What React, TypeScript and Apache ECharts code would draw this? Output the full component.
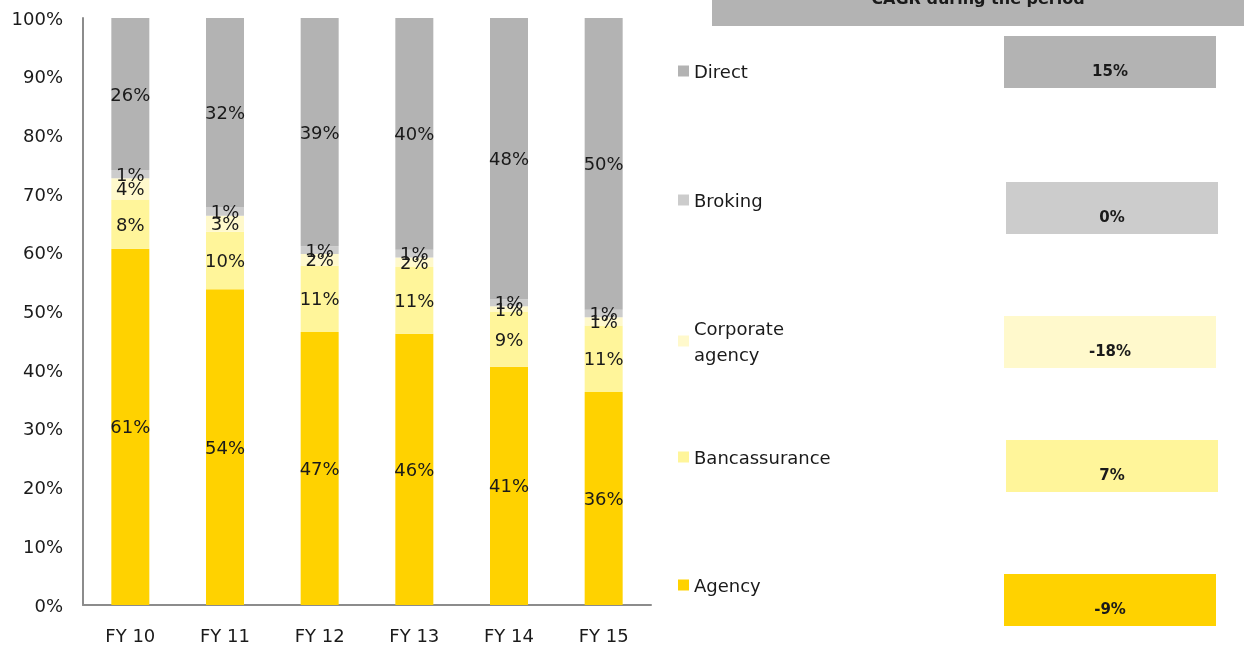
import React, { useEffect, useRef } from "react";
import * as echarts from "echarts";

const categories = ["FY 10", "FY 11", "FY 12", "FY 13", "FY 14", "FY 15"];
const agency = [60.7, 53.8, 46.5, 46.2, 40.6, 36.3];
const bancassurance = [8.4, 9.8, 11.3, 11.4, 9.3, 11.3];
const corporateAgency = [3.6, 2.7, 2.0, 1.6, 1.0, 1.4];
const broking = [1.4, 1.4, 1.3, 1.3, 1.2, 1.3];
const direct = [25.9, 32.3, 38.9, 39.5, 47.9, 49.7];
const yTicks = [0, 10, 20, 30, 40, 50, 60, 70, 80, 90, 100];

const seriesNames = ["Agency", "Bancassurance", "Corporate agency", "Broking", "Direct"];
const seriesColors = ["#FFD200", "#FFF59A", "#FFF9CC", "#CCCCCC", "#B3B3B3"];
const cagrNames = ["Direct", "Broking", "Corporate agency", "Bancassurance", "Agency"];
const cagrValues = [15, 0, -18, 7, -9];
const cagrTitle = "CAGR during the period";

const FONT = "DejaVu Sans";

export default function App() {
  const ref = useRef<HTMLDivElement>(null);
  useEffect(() => {
    if (!ref.current) return;
    const chart = echarts.init(ref.current, null, { renderer: "svg" });
    const data = [agency, bancassurance, corporateAgency, broking, direct];
    const colorOf = (n: string) => seriesColors[seriesNames.indexOf(n)];

    const legendCenters: Record<string, number> = {
      Direct: 71,
      Broking: 200,
      "Corporate agency": 341,
      Bancassurance: 457,
      Agency: 585,
    };
    const legends = cagrNames.map((n) => {
      const two = n === "Corporate agency";
      const h = two ? 52 : 26;
      return {
        data: [n],
        left: 678,
        top: legendCenters[n] - h / 2,
        itemWidth: 11,
        itemHeight: 11,
        icon: "rect",
        selectedMode: false,
        padding: 0,
        formatter: two ? "Corporate\nagency" : "{name}",
        textStyle: {
          fontFamily: FONT,
          fontSize: 18,
          color: "#1a1a1a",
          lineHeight: 26,
        },
      };
    });

    const boxTops = [36, 182, 316, 440, 574];
    const boxLefts = [1004, 1006, 1004, 1006, 1004];
    const graphics: any[] = [
      {
        type: "rect",
        shape: { x: 712, y: -20, width: 532, height: 46 },
        style: { fill: "#B3B3B3" },
      },
      {
        type: "text",
        x: 978,
        y: -2,
        style: {
          text: cagrTitle,
          fontFamily: FONT,
          fontWeight: "bold",
          fontSize: 16,
          fill: "#1a1a1a",
          align: "center",
          verticalAlign: "middle",
        },
      },
    ];
    cagrNames.forEach((n, i) => {
      graphics.push({
        type: "rect",
        shape: { x: boxLefts[i], y: boxTops[i], width: 212, height: 52 },
        style: { fill: colorOf(n) },
      });
      graphics.push({
        type: "text",
        x: boxLefts[i] + 106,
        y: boxTops[i] + 35,
        style: {
          text: `${cagrValues[i]}%`,
          fontFamily: FONT,
          fontWeight: "bold",
          fontSize: 15,
          fill: "#1a1a1a",
          align: "center",
          verticalAlign: "middle",
        },
      });
    });

    chart.setOption({
      animation: false,
      textStyle: { fontFamily: FONT },
      grid: { left: 83, right: 605, top: 18, bottom: 41, containLabel: false },
      legend: legends,
      xAxis: {
        type: "category",
        data: categories,
        axisLine: { show: true, lineStyle: { color: "#8c8c8c", width: 2 } },
        axisTick: { show: false },
        axisLabel: { fontSize: 18, color: "#1a1a1a", margin: 21, fontFamily: FONT },
      },
      yAxis: {
        type: "value",
        min: yTicks[0],
        max: yTicks[yTicks.length - 1],
        interval: 10,
        splitLine: { show: false },
        axisLine: { show: true, lineStyle: { color: "#8c8c8c", width: 2 } },
        axisTick: { show: false },
        axisLabel: {
          fontSize: 18,
          color: "#1a1a1a",
          margin: 20,
          fontFamily: FONT,
          formatter: "{value}%",
        },
      },
      series: seriesNames.map((n, i) => ({
        name: n,
        type: "bar",
        stack: "total",
        barWidth: 38,
        data: data[i],
        itemStyle: { color: seriesColors[i] },
        label: {
          show: true,
          position: "inside",
          fontSize: 18,
          color: "#1a1a1a",
          fontFamily: FONT,
          formatter: (p: any) => `${Math.round(p.value)}%`,
        },
      })),
      graphic: graphics,
    });
    return () => chart.dispose();
  }, []);
  return (
    <div
      ref={ref}
      style={{ position: "fixed", left: 0, top: 0, width: 1256, height: 646 }}
    />
  );
}
